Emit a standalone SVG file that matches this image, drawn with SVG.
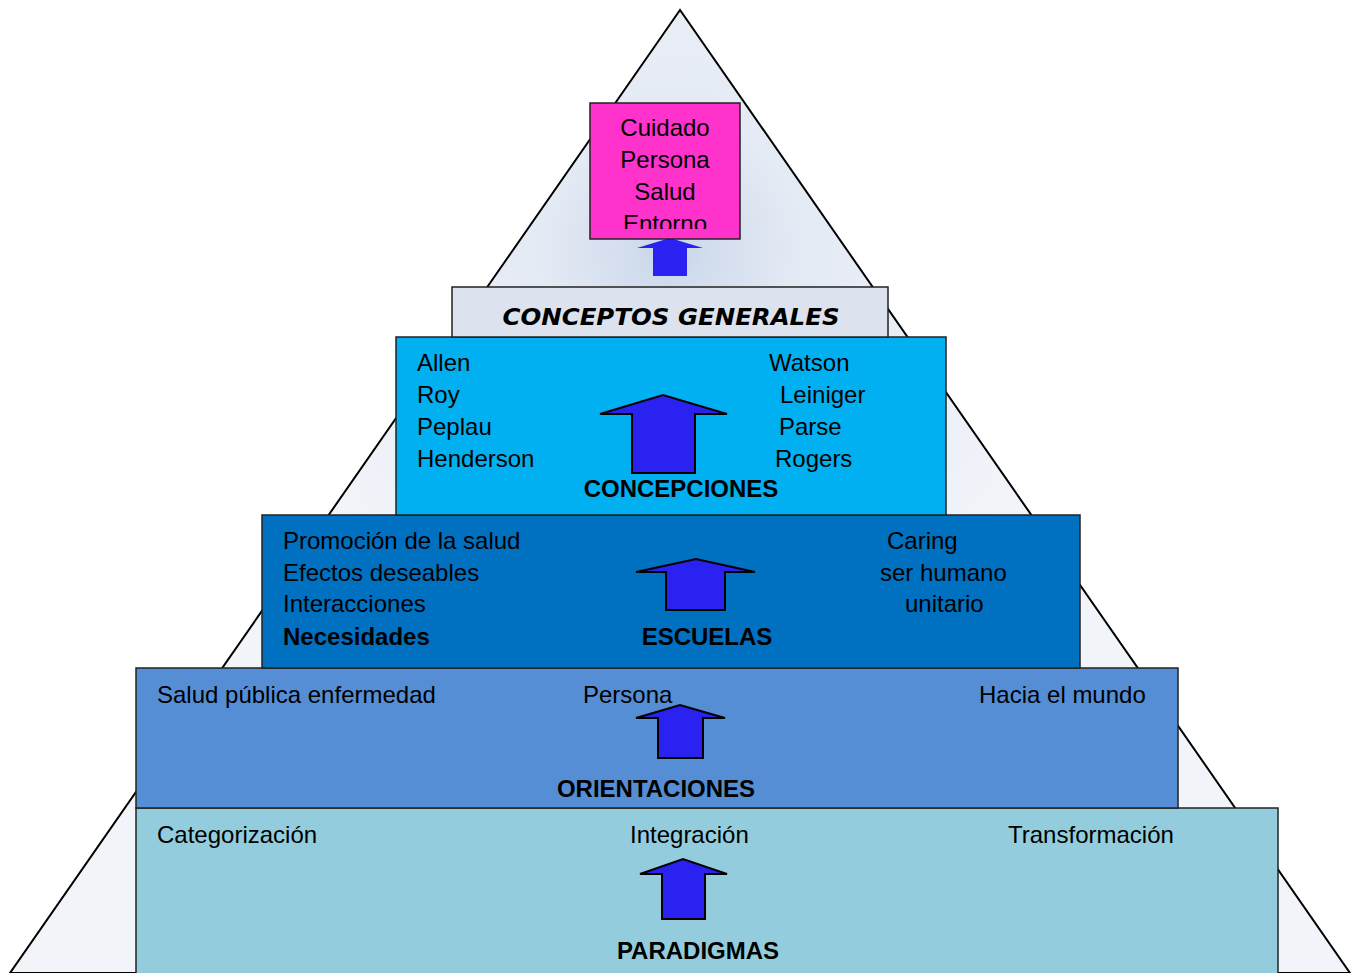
<svg xmlns="http://www.w3.org/2000/svg" width="1353" height="973" viewBox="0 0 1353 973">
<defs>
<radialGradient id="tg" cx="670" cy="250" r="420" gradientUnits="userSpaceOnUse">
<stop offset="0" stop-color="#c9d6ea"/>
<stop offset="0.3" stop-color="#e4eaf4"/>
<stop offset="1" stop-color="#f1f4f9"/>
</radialGradient>
<clipPath id="pc"><rect x="590" y="103" width="150" height="126"/></clipPath>
</defs>
<style>
.box{stroke:#222;stroke-width:1.5}
.t{font-family:"Liberation Sans",Arial,sans-serif;font-size:24px;fill:#000}
.b{font-weight:bold}
.c{text-anchor:middle}
.arr{fill:#2a22f0;stroke:#000;stroke-width:2;stroke-linejoin:miter}
</style>
<g id="pyramid">
<polygon points="680,10 10,973 1350,973" fill="url(#tg)" stroke="#000" stroke-width="2"/>
</g>
<g id="paradigmas">
<rect class="box" x="136" y="808" width="1142" height="170" fill="#93cddd"/>
<text class="t" x="157" y="843">Categorización</text>
<text class="t" x="630" y="843">Integración</text>
<text class="t" x="1008" y="843">Transformación</text>
<text class="t b c" x="698" y="959">PARADIGMAS</text>
</g>
<g id="orientaciones">
<rect class="box" x="136" y="668" width="1042" height="140" fill="#558ed5"/>
<text class="t" x="157" y="703">Salud pública enfermedad</text>
<text class="t" x="583" y="703">Persona</text>
<text class="t" x="979" y="703">Hacia el mundo</text>
<text class="t b c" x="656" y="797">ORIENTACIONES</text>
</g>
<g id="escuelas">
<rect class="box" x="262" y="515" width="818" height="153" fill="#0070c0"/>
<text class="t" x="283" y="549">Promoción de la salud</text>
<text class="t" x="283" y="581">Efectos deseables</text>
<text class="t" x="283" y="612">Interacciones</text>
<text class="t b" x="283" y="645">Necesidades</text>
<text class="t" x="887" y="549">Caring</text>
<text class="t" x="880" y="581">ser humano</text>
<text class="t" x="905" y="612">unitario</text>
<text class="t b c" x="707" y="645">ESCUELAS</text>
</g>
<g id="concepciones">
<rect class="box" x="396" y="337" width="550" height="178" fill="#00b0f0"/>
<text class="t" x="417" y="371">Allen</text>
<text class="t" x="417" y="403">Roy</text>
<text class="t" x="417" y="435">Peplau</text>
<text class="t" x="417" y="467">Henderson</text>
<text class="t" x="769" y="371">Watson</text>
<text class="t" x="780" y="403">Leiniger</text>
<text class="t" x="779" y="435">Parse</text>
<text class="t" x="775" y="467">Rogers</text>
<text class="t b c" x="681" y="497">CONCEPCIONES</text>
</g>
<g id="conceptos-generales">
<rect class="box" x="452" y="287" width="436" height="50" fill="#dce3ee"/>
<text class="t b c" x="671" y="325" font-style="italic" textLength="337" lengthAdjust="spacingAndGlyphs" style="font-family:'DejaVu Sans','Liberation Sans',sans-serif;font-size:23px">CONCEPTOS GENERALES</text>
</g>
<g id="connectors">
<polygon class="arr" points="600,414 663,395 727,414 695,414 695,473 632,473 632,414"/>
<polygon class="arr" points="636,572 696,559 755,572 725,572 725,610 666,610 666,572"/>
<polygon class="arr" points="636,718 680,705 725,718 703,718 703,758 658,758 658,718"/>
<polygon class="arr" points="640,874 683,859 727,874 705,874 705,919 662,919 662,874"/>
<polygon points="637,248 670,238 703,248 687,248 687,276 653,276 653,248" fill="#2a22f0"/>
</g>
<g id="metaparadigma">
<rect class="box" x="590" y="103" width="150" height="136" fill="#ff33cc"/>
<g clip-path="url(#pc)">
<text class="t c" x="665" y="136">Cuidado</text>
<text class="t c" x="665" y="168">Persona</text>
<text class="t c" x="665" y="200">Salud</text>
<text class="t c" x="665" y="232">Entorno</text>
</g>
</g>
</svg>
